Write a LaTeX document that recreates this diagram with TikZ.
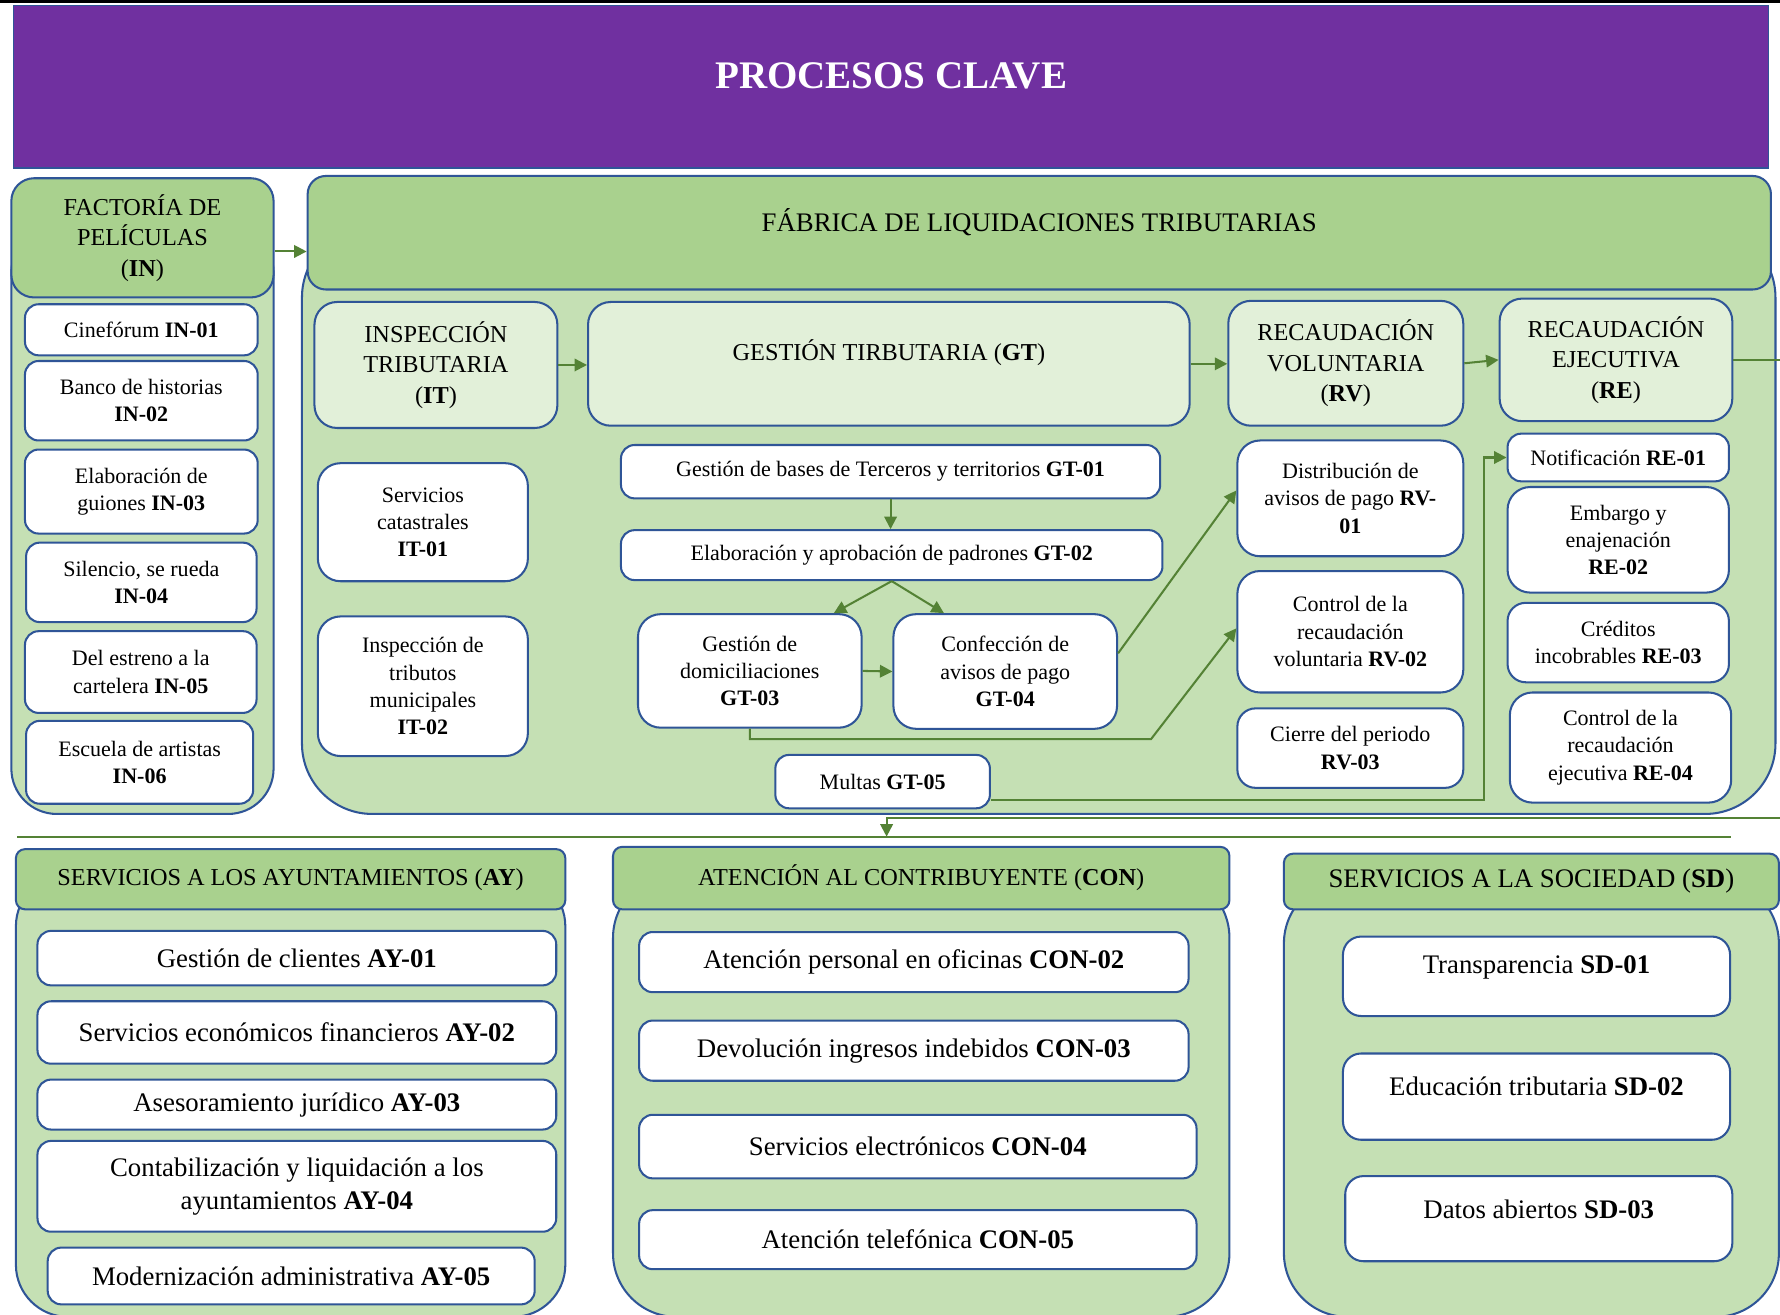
\documentclass[tikz,border=0pt]{standalone}
\usepackage{fontspec}
\setmainfont{Liberation Serif}
\usetikzlibrary{arrows.meta}
\definecolor{purpleband}{HTML}{7030A0}
\definecolor{hdrgreen}{HTML}{A9D18E}
\definecolor{bodygreen}{HTML}{C5E0B4}
\definecolor{palegreen}{HTML}{E2F0D9}
\definecolor{edgeblue}{HTML}{2F5597}
\definecolor{linkgreen}{HTML}{548235}

\begin{document}
\begin{tikzpicture}[x=0.5pt, y=-0.5pt,
every node/.style = {shape=rectangle, draw=edgeblue, line width=0.9pt, align=center, inner sep=0pt},
wh/.style 2 args = {minimum width=#1*0.5pt, minimum height=#2*0.5pt},
body/.style = {fill=bodygreen, rounded corners=#1},
head/.style = {fill=hdrgreen, rounded corners=10pt, font=\fontsize{10.7}{13.5}\selectfont},
sub/.style = {fill=palegreen, rounded corners=10pt, font=\fontsize{10.7}{13.5}\selectfont},
item/.style = {fill=white, rounded corners=6pt, font=\fontsize{9.7}{12}\selectfont},
bigitem/.style = {fill=white, rounded corners=6pt, font=\fontsize{11.8}{14.5}\selectfont},
link/.style = {draw=linkgreen, line width=0.9pt, -{Triangle[length=5.5pt,width=5.5pt]}},
plain/.style = {draw=linkgreen, line width=0.9pt}]
\useasboundingbox[fill=white] (0,0) rectangle (1568,1158);
\draw[line width=1.2pt] (0,1.2) -- (1568,1.2);
\node [wh={1546}{143}, fill=purpleband, text=white, line width=0.6pt, text depth=9.5pt,
  font=\fontsize{17.2}{20}\selectfont\bfseries] (title) at (785,76.5) {PROCESOS CLAVE};

\node [body=20pt, wh={231}{517}] (inbody) at (125.5,458.5) {};
\node [head, wh={231}{105}] (inhead) at (125.5,209.5) {FACTORÍA DE\\PELÍCULAS\\(\textbf{IN})};
\node [item, wh={205}{45}] (in01) at (124.5,290.5) {Cinefórum \textbf{IN-01}};
\node [item, wh={205}{70}] (in02) at (124.5,353) {Banco de historias\\\textbf{IN-02}};
\node [item, wh={205}{74}] (in03) at (124.5,433) {Elaboración de\\guiones \textbf{IN-03}};
\node [item, wh={203}{70}] (in04) at (124.5,513) {Silencio, se rueda\\\textbf{IN-04}};
\node [item, wh={204}{72}] (in05) at (124,592) {Del estreno a la\\cartelera \textbf{IN-05}};
\node [item, wh={200}{73}] (in06) at (123,671.5) {Escuela de artistas\\\textbf{IN-06}};

\node [body=31pt, wh={1298}{517}] (fabbody) at (915,458.5) {};
\node [head, wh={1289}{100}, rounded corners=8pt, text depth=11.4pt,
  font=\fontsize{11.8}{14.5}\selectfont] (fabhead) at (915.5,205) {FÁBRICA DE LIQUIDACIONES TRIBUTARIAS};
\node [sub, wh={214}{111}] (it) at (384,321.5) {INSPECCIÓN\\TRIBUTARIA\\(\textbf{IT})};
\node [sub, wh={530}{109}, text depth=11.7pt] (gt) at (783,320.5) {GESTIÓN TIRBUTARIA (\textbf{GT})};
\node [sub, wh={207}{110}] (rv) at (1185.5,320) {RECAUDACIÓN\\VOLUNTARIA\\(\textbf{RV})};
\node [sub, wh={205}{108}] (re) at (1423.5,317) {RECAUDACIÓN\\EJECUTIVA\\(\textbf{RE})};

\node [item, wh={185}{104}, rounded corners=10pt] (it01) at (372.5,460) {Servicios\\catastrales\\\textbf{IT-01}};
\node [item, wh={185}{123}, rounded corners=10pt] (it02) at (372.5,604.5) {Inspección de\\tributos\\municipales\\\textbf{IT-02}};

\node [item, wh={475}{47}] (gt01) at (784.5,415.5) {Gestión de bases de Terceros y territorios \textbf{GT-01}};
\node [item, wh={477}{44}] (gt02) at (785.5,489) {Elaboración y aprobación de padrones \textbf{GT-02}};
\node [item, wh={197}{100}, rounded corners=10pt] (gt03) at (660.5,591) {Gestión de\\domiciliaciones\\\textbf{GT-03}};
\node [item, wh={197}{101}, rounded corners=10pt] (gt04) at (885.5,591.5) {Confección de\\avisos de pago\\\textbf{GT-04}};
\node [item, wh={189}{47}] (gt05) at (777.5,688.5) {Multas \textbf{GT-05}};

\node [item, wh={199}{102}, rounded corners=10pt] (rv01) at (1189.5,439) {Distribución de\\avisos de pago \textbf{RV-}\\\textbf{01}};
\node [item, wh={199}{107}, rounded corners=10pt] (rv02) at (1189.5,556.5) {Control de la\\recaudación\\voluntaria \textbf{RV-02}};
\node [item, wh={199}{70}, rounded corners=8pt] (rv03) at (1189.5,659) {Cierre del periodo\\\textbf{RV-03}};

\node [item, wh={195}{42}] (re01) at (1425.5,403) {Notificación \textbf{RE-01}};
\node [item, wh={195}{93}, rounded corners=10pt] (re02) at (1425.5,475.5) {Embargo y\\enajenación\\\textbf{RE-02}};
\node [item, wh={195}{70}, rounded corners=8pt] (re03) at (1425.5,566) {Créditos\\incobrables \textbf{RE-03}};
\node [item, wh={195}{97}, rounded corners=10pt] (re04) at (1427.5,658.5) {Control de la\\recaudación\\ejecutiva \textbf{RE-04}};

\node [body=23pt, wh={484}{390}] (aybody) at (256,965) {};
\node [head, wh={484}{53}, rounded corners=4pt] (ayhead) at (256,774.5) {SERVICIOS A LOS AYUNTAMIENTOS (\textbf{AY})};
\node [bigitem, wh={457}{48}] (ay01) at (261.5,844) {Gestión de clientes \textbf{AY-01}};
\node [bigitem, wh={457}{55}] (ay02) at (261.5,909.5) {Servicios económicos financieros \textbf{AY-02}};
\node [bigitem, wh={457}{44}] (ay03) at (261.5,973) {Asesoramiento jurídico \textbf{AY-03}};
\node [bigitem, wh={457}{80}] (ay04) at (261.5,1045) {Contabilización y liquidación a los\\ayuntamientos \textbf{AY-04}};
\node [bigitem, wh={429}{50}] (ay05) at (256.5,1124) {Modernización administrativa \textbf{AY-05}};

\node [body=28pt, wh={543}{390}] (conbody) at (811.5,965) {};
\node [head, wh={543}{55}, rounded corners=4pt] (conhead) at (811.5,773.5) {ATENCIÓN AL CONTRIBUYENTE (\textbf{CON})};
\node [bigitem, wh={484}{53}] (con02) at (805,847.5) {Atención personal en oficinas \textbf{CON-02}};
\node [bigitem, wh={484}{53}] (con03) at (805,925.5) {Devolución ingresos indebidos \textbf{CON-03}};
\node [bigitem, wh={491}{56}] (con04) at (808.5,1010) {Servicios electrónicos \textbf{CON-04}};
\node [bigitem, wh={491}{52}] (con05) at (808.5,1092) {Atención telefónica \textbf{CON-05}};

\node [body=28pt, wh={436}{385}] (sdbody) at (1349,967.5) {};
\node [head, wh={436}{49}, rounded corners=4pt, font=\fontsize{11.8}{14.5}\selectfont] (sdhead) at (1349,776.5) {SERVICIOS A LA SOCIEDAD (\textbf{SD})};
\node [bigitem, wh={341}{70}, rounded corners=8pt, text depth=10.6pt] (sd01) at (1353.5,860) {Transparencia \textbf{SD-01}};
\node [bigitem, wh={341}{76}, rounded corners=8pt, text depth=9pt] (sd02) at (1353.5,966) {Educación tributaria \textbf{SD-02}};
\node [bigitem, wh={341}{75}, rounded corners=8pt, text depth=8.5pt] (sd03) at (1355.5,1073.5) {Datos abiertos \textbf{SD-03}};

\coordinate (turn) at (1600,720.5);
\coordinate (hub) at (781,737);
\coordinate (ruleL) at (15,737);
\coordinate (ruleR) at (1525,737);
\coordinate (knee) at (1014,651);
\draw [link] ([yshift=-6pt]inhead.east) -- ([yshift=-6pt]inhead.east -| fabhead.west);
\draw [link] (it.east) -- (it.east -| gt.west);
\draw [link] (gt.east) -- (gt.east -| rv.west);
\draw [link] (rv.east) -- (re.west);
\draw [link] (re.east) -| (turn) -- (turn -| hub) -- (hub);
\draw [plain] (ruleL) -- (ruleR);
\draw [link] (gt01.south) -- (gt01.south |- gt02.north);
\draw [link] (gt02.south) -- ([xshift=37pt]gt03.north);
\draw [link] (gt02.south) -- ([xshift=-27pt]gt04.north);
\draw [link] (gt03.east) -- (gt04.west);
\draw [link] ([yshift=8pt]gt04.east) -- ([yshift=3.5pt]rv01.west);
\draw [link] (gt03.south) |- (knee) -- ([yshift=1.5pt]rv02.west);
\draw [link] ([yshift=-8pt]gt05.east) -| ([xshift=-10pt]re01.west) -- (re01.west);
\end{tikzpicture}
\end{document}
